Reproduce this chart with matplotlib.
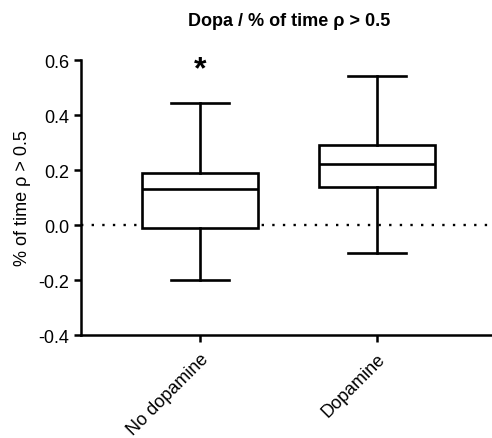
import matplotlib
matplotlib.use("Agg")
import matplotlib.pyplot as plt

plt.rcParams['font.family'] = ['Liberation Sans', 'DejaVu Sans']

# Box plot summary values
groups = ["No dopamine", "Dopamine"]
whisker_low = [-0.20, -0.10]
box_low = [-0.012, 0.139]
medians = [0.13, 0.222]
box_high = [0.19, 0.29]
whisker_high = [0.443, 0.543]

stats = []
for i, name in enumerate(groups):
    stats.append({
        "label": name,
        "whislo": whisker_low[i],
        "q1": box_low[i],
        "med": medians[i],
        "q3": box_high[i],
        "whishi": whisker_high[i],
        "fliers": [],
    })

fig = plt.figure(figsize=(4.92, 4.39), dpi=100)
ax = fig.add_axes([0.1646, 0.2346, 0.835, 0.6264])

lw = 1.9
ax.axhline(0, color='black', linestyle=(0, (1, 3.5)), linewidth=1.7, zorder=1)
ax.bxp(stats, positions=[1, 2], widths=0.655, showfliers=False,
       boxprops=dict(color='black', linewidth=lw),
       medianprops=dict(color='black', linewidth=lw),
       whiskerprops=dict(color='black', linewidth=lw),
       capprops=dict(color='black', linewidth=lw),
       capwidths=0.33, patch_artist=True)
for p in ax.patches:
    p.set_facecolor('white')
    p.set_edgecolor('black')
    p.set_linewidth(lw)
    p.set_zorder(2)

# significance marker
ax.text(1, 0.567, "*", ha='center', va='center', fontsize=23, fontweight='bold')

ax.set_xlim(0.328, 2.65)
ax.set_ylim(-0.4, 0.6)
ax.set_yticks([-0.4, -0.2, 0.0, 0.2, 0.4, 0.6])
ax.set_yticklabels(["-0.4", "-0.2", "0.0", "0.2", "0.4", "0.6"])
ax.set_xticks([1, 2])
ax.set_xticklabels(groups, rotation=45, ha='right', rotation_mode='anchor')

for s in ['top', 'right']:
    ax.spines[s].set_visible(False)
for s in ['left', 'bottom']:
    ax.spines[s].set_linewidth(1.8)
ax.tick_params(axis='both', direction='out', length=5, width=1.8, labelsize=13)
ax.tick_params(axis='x', pad=6)

ax.set_ylabel("% of time \u03c1 > 0.5", fontsize=13, labelpad=5)
fig.text(0.587, 0.95, "Dopa / % of time \u03c1 > 0.5", ha='center', va='center',
         fontsize=13, fontweight='bold')

fig.savefig("out.png", dpi=100)
